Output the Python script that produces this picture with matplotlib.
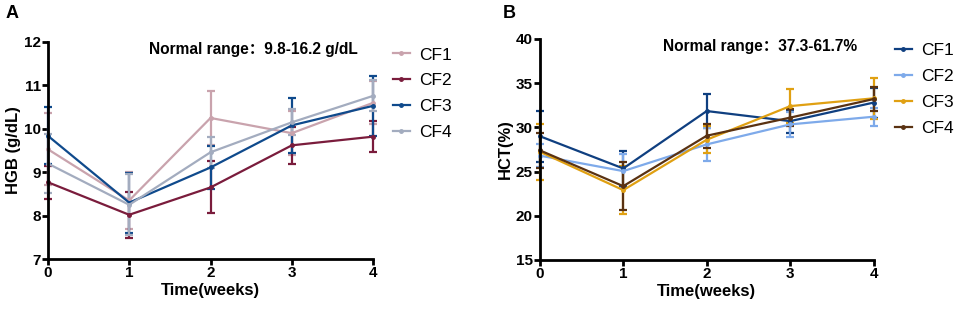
import numpy as np
import matplotlib
matplotlib.use('Agg')
import matplotlib.pyplot as plt
from matplotlib.lines import Line2D

plt.rcParams['font.family'] = ['Liberation Sans', 'Noto Sans CJK SC', 'DejaVu Sans']

weeks = [0, 1, 2, 3, 4]
labels = ['CF1', 'CF2', 'CF3', 'CF4']

# HGB (g/dL)
hgb_mean = [[9.53, 8.35, 10.25, 9.90, 10.60],
            [8.77, 8.02, 8.65, 9.62, 9.82],
            [9.84, 8.30, 9.11, 10.08, 10.53],
            [9.20, 8.25, 9.46, 10.15, 10.76]]
hgb_err = [[0.83, 0.65, 0.62, 0.50, 0.50],
           [0.38, 0.53, 0.60, 0.43, 0.35],
           [0.66, 0.69, 0.49, 0.64, 0.69],
           [0.68, 0.70, 0.36, 0.30, 0.36]]
hgb_colors = ['#c9a3ad', '#7a1c3c', '#0f4a8c', '#a3acbf']

# HCT (%)
hct_mean = [[29.0, 25.35, 31.84, 30.7, 32.8],
            [26.8, 25.05, 28.07, 30.33, 31.2],
            [27.24, 22.9, 28.6, 32.4, 33.28],
            [27.4, 23.35, 29.05, 31.1, 33.2]]
hct_err = [[2.9, 1.95, 1.9, 1.3, 1.7],
           [1.3, 1.95, 1.85, 1.45, 1.0],
           [3.15, 2.75, 1.5, 1.9, 2.3],
           [2.0, 2.75, 1.35, 1.0, 1.4]]
hct_colors = ['#0f3f80', '#7eaaea', '#e0a012', '#5a3212']

fig = plt.figure(figsize=(9.57, 3.11), dpi=100)
axA = fig.add_axes([0.050, 0.167, 0.340, 0.698])
axB = fig.add_axes([0.564, 0.164, 0.349, 0.711])

def panel(ax, means, errs, colors, ylim, yticks, ylabel, note, notex, legx, legy):
    for m, e, c, lab in zip(means, errs, colors, labels):
        ax.errorbar(weeks, m, yerr=e, color=c, lw=1.6, marker='o', ms=2.5,
                    capsize=3, capthick=1.6, elinewidth=1.6, clip_on=False)
    ax.set_xlim(0, 4)
    ax.set_ylim(*ylim)
    ax.set_xticks(weeks)
    ax.set_yticks(yticks)
    for s in ['top', 'right']:
        ax.spines[s].set_visible(False)
    for s in ['left', 'bottom']:
        ax.spines[s].set_linewidth(2)
    ax.tick_params(width=2, length=4, labelsize=11, pad=1)
    for t in ax.get_xticklabels() + ax.get_yticklabels():
        t.set_fontweight('bold')
    ax.set_xlabel('Time(weeks)', fontsize=12, fontweight='bold', labelpad=2)
    ax.set_ylabel(ylabel, fontsize=12, fontweight='bold', labelpad=2)
    ax.text(notex, 0.965, note, transform=ax.transAxes, fontsize=11.2,
            fontweight='bold', va='center', ha='left')
    handles = [Line2D([0], [0], color=c, lw=1.6, marker='o', ms=2.5) for c in colors]
    ax.legend(handles, labels, loc='upper left', bbox_to_anchor=(legx, legy),
              frameon=False, fontsize=12.5, handlelength=1.0, handletextpad=0.5,
              labelspacing=0.62, borderpad=0, borderaxespad=0)

panel(axA, hgb_mean, hgb_err, hgb_colors, (7, 12), [7, 8, 9, 10, 11, 12],
      'HGB (g/dL)', 'Normal range：9.8-16.2 g/dL', 0.31, 1.06, 0.975)
panel(axB, hct_mean, hct_err, hct_colors, (15, 40), [15, 20, 25, 30, 35, 40],
      'HCT(%)', 'Normal range：37.3-61.7%', 0.368, 1.063, 0.98)

fig.text(0.006, 0.955, 'A', fontsize=13, fontweight='bold', va='center')
fig.text(0.525, 0.958, 'B', fontsize=13, fontweight='bold', va='center')

fig.savefig('out.png', dpi=100)
